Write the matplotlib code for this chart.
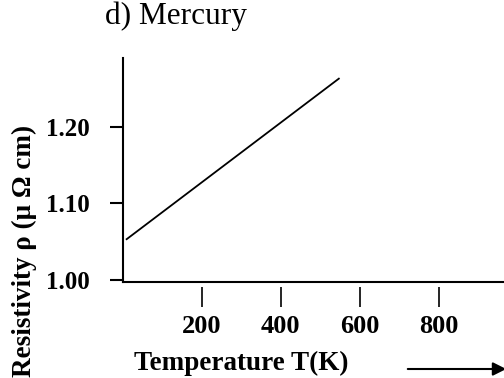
import matplotlib
matplotlib.use("Agg")
import matplotlib.pyplot as plt

# resistivity of mercury vs temperature
temperature = [10, 547]
resistivity = [1.053, 1.263]

x_ticks = [200, 400, 600, 800]
y_ticks = [1.00, 1.10, 1.20]
y_tick_labels = ["1.00", "1.10", "1.20"]

plt.rcParams["font.family"] = ["Liberation Serif", "DejaVu Serif"]

fig = plt.figure(figsize=(5.04, 3.78), dpi=100)
ax = fig.add_axes([122.7 / 504, 96 / 378, (504 - 122.7) / 504, 224 / 378])

ax.plot(temperature, resistivity, color="black", linewidth=1.3)

ax.set_xlim(0, 965)
ax.set_ylim(0.997, 1.29)

for side in ("top", "right"):
    ax.spines[side].set_visible(False)
for side in ("left", "bottom"):
    ax.spines[side].set_linewidth(1.5)

# y ticks attached to the spine
ax.set_yticks(y_ticks)
ax.set_yticklabels(y_tick_labels, fontsize=18, fontweight="bold")
ax.tick_params(axis="y", direction="out", length=9.5, width=1.5, pad=14)

# x ticks sit a little below the axis line
ax.set_xticks([])
sec = ax.secondary_xaxis(-0.022)
sec.spines["bottom"].set_visible(False)
sec.set_xticks(x_ticks)
sec.set_xticklabels([str(t) for t in x_ticks], fontsize=19, fontweight="bold")
sec.tick_params(axis="x", direction="out", length=14.5, width=1.2, pad=6)

fig.text(105 / 504, 1 - 16 / 378, "d) Mercury", fontsize=22.5, ha="left", va="center")
fig.text(241 / 504, 1 - 363 / 378, "Temperature T(K)", fontsize=19.5,
         fontweight="bold", ha="center", va="center")
fig.text(24 / 504, 1 - 251 / 378, "Resistivity ρ (μ Ω cm)", fontsize=19.5,
         fontweight="bold", rotation=90, ha="center", va="center")

fig.add_artist(matplotlib.patches.FancyArrowPatch(
    (405 / 504, 1 - 369 / 378), (1.01, 1 - 369 / 378),
    transform=fig.transFigure, arrowstyle="-|>", mutation_scale=20,
    color="black", linewidth=1.5))

fig.savefig("out.png", dpi=100)
